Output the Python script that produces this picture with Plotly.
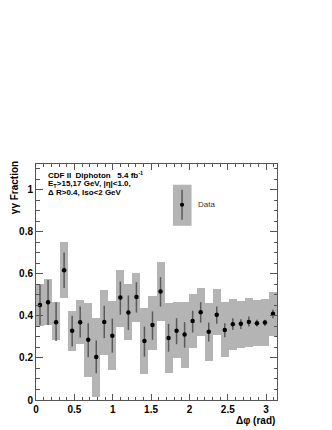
import math
import plotly.graph_objects as go

# ---- data ----
n_bins = 30
bin_width = math.pi / n_bins
dphi = [(i + 0.5) * bin_width for i in range(n_bins)]

fraction = [0.452, 0.465, 0.370, 0.617, 0.329, 0.370, 0.286, 0.205, 0.371, 0.306,
            0.487, 0.416, 0.490, 0.281, 0.357, 0.516, 0.295, 0.329, 0.311, 0.375,
            0.417, 0.325, 0.405, 0.333, 0.360, 0.362, 0.371, 0.365, 0.368, 0.410]
stat_hi = [0.548, 0.570, 0.465, 0.701, 0.400, 0.444, 0.365, 0.283, 0.448, 0.387,
           0.563, 0.497, 0.560, 0.349, 0.421, 0.584, 0.362, 0.389, 0.370, 0.424,
           0.465, 0.368, 0.444, 0.365, 0.389, 0.384, 0.397, 0.381, 0.381, 0.429]
stat_lo = [0.355, 0.357, 0.280, 0.532, 0.254, 0.297, 0.203, 0.127, 0.294, 0.225,
           0.405, 0.333, 0.416, 0.206, 0.286, 0.444, 0.230, 0.265, 0.249, 0.321,
           0.368, 0.278, 0.362, 0.298, 0.333, 0.337, 0.349, 0.349, 0.352, 0.389]
sys_hi = [0.551, 0.575, 0.465, 0.749, 0.421, 0.476, 0.463, 0.392, 0.524, 0.471,
          0.619, 0.552, 0.603, 0.437, 0.495, 0.654, 0.460, 0.465, 0.468, 0.505,
          0.532, 0.463, 0.529, 0.465, 0.479, 0.473, 0.487, 0.476, 0.479, 0.514]
sys_lo = [0.352, 0.357, 0.286, 0.484, 0.235, 0.265, 0.111, 0.016, 0.214, 0.143,
          0.349, 0.286, 0.373, 0.124, 0.238, 0.376, 0.130, 0.198, 0.151, 0.246,
          0.302, 0.186, 0.310, 0.203, 0.238, 0.249, 0.254, 0.257, 0.259, 0.302]

x_range = [0, math.pi]
y_range = [0, 1.122]

err_plus = [h - v for h, v in zip(stat_hi, fraction)]
err_minus = [v - l for v, l in zip(fraction, stat_lo)]

BOX = "#b4b4b4"
BAR = "#5a5a5a"
AX = "#555555"
FONT = "Liberation Sans, Arial, Helvetica, sans-serif"

# page offset (body margin) compensation
OFF = 8
PL, PR, PT, PB = 36, 276.6, 164.3, 400  # target plot-area edges in window pixels
W, H = 332 - OFF, 430 - OFF
PW, PH = PR - PL, PB - PT


def px(xw):
    return (xw - PL) / PW


def py(yw):
    return (PB - yw) / PH


fig = go.Figure()
fig.add_trace(go.Bar(
    x=dphi, y=[h - l for h, l in zip(sys_hi, sys_lo)], base=sys_lo,
    width=bin_width, marker=dict(color=BOX, line=dict(width=0)),
    showlegend=False, hoverinfo="skip"))
fig.add_trace(go.Scatter(
    x=dphi, y=fraction, mode="markers",
    marker=dict(color="black", size=4.5),
    error_y=dict(type="data", symmetric=False, array=err_plus, arrayminus=err_minus,
                 color=BAR, thickness=1.5, width=0),
    showlegend=False))

tickfont = dict(family=FONT, size=10, color="black", weight="bold")
fig.update_layout(
    width=W, height=H,
    margin=dict(l=PL - OFF, r=W + OFF - PR, t=PT - OFF, b=H + OFF - PB),
    paper_bgcolor="white", plot_bgcolor="white",
    bargap=0,
    xaxis=dict(range=x_range, showgrid=False, zeroline=False,
               showline=True, linecolor=AX, linewidth=1, mirror="ticks",
               ticks="inside", ticklen=6, tickcolor=AX, tickwidth=1,
               dtick=0.5, tick0=0, tickfont=tickfont,
               minor=dict(ticks="inside", dtick=0.1, ticklen=3, tickcolor=AX, tickwidth=1)),
    yaxis=dict(range=y_range, showgrid=False, zeroline=False,
               showline=True, linecolor=AX, linewidth=1, mirror="ticks",
               ticks="inside", ticklen=7, tickcolor=AX, tickwidth=1,
               dtick=0.2, tick0=0, tickfont=tickfont,
               minor=dict(ticks="inside", dtick=0.05, ticklen=3.5, tickcolor=AX, tickwidth=1)),
)

# legend (manual)
fig.add_shape(type="rect", xref="paper", yref="paper",
              x0=px(172.7), x1=px(191.3), y0=py(226), y1=py(185),
              fillcolor=BOX, line=dict(width=0), layer="above")
fig.add_shape(type="line", xref="paper", yref="paper",
              x0=px(181.8), x1=px(181.8), y0=py(220), y1=py(190),
              line=dict(color=BAR, width=1.5), layer="above")
fig.add_shape(type="circle", xref="paper", yref="paper",
              x0=px(179.7), x1=px(183.9), y0=py(207.1), y1=py(202.9),
              fillcolor="black", line=dict(width=0), layer="above")
fig.add_annotation(text="Data", xref="paper", yref="paper",
                   x=px(196), y=py(205),
                   xanchor="left", yanchor="middle", showarrow=False,
                   font=dict(family=FONT, size=8, color="#333333"))

# info text
info = ["CDF II  Diphoton   5.4 fb<sup>-1</sup>",
        "E<sub>T</sub>>15,17 GeV, |η|<1.0,",
        "Δ R>0.4, Iso<2 GeV"]
info_y = [175.5, 184.5, 192.8]
for t, yy in zip(info, info_y):
    fig.add_annotation(text=t, xref="paper", yref="paper",
                       x=px(46), y=py(yy),
                       xanchor="left", yanchor="middle", showarrow=False,
                       font=dict(family=FONT, size=8, color="black", weight="bold"))

# axis titles
fig.add_annotation(text="γγ Fraction", xref="paper", yref="paper",
                   x=px(14), y=py(159),
                   xanchor="center", yanchor="top", textangle=-90, showarrow=False,
                   font=dict(family=FONT, size=10, color="black", weight="bold"))
fig.add_annotation(text="Δφ (rad)", xref="paper", yref="paper",
                   x=1.0, y=py(420),
                   xanchor="right", yanchor="middle", showarrow=False,
                   font=dict(family=FONT, size=10, color="black", weight="bold"))

fig.write_html("out.html")
